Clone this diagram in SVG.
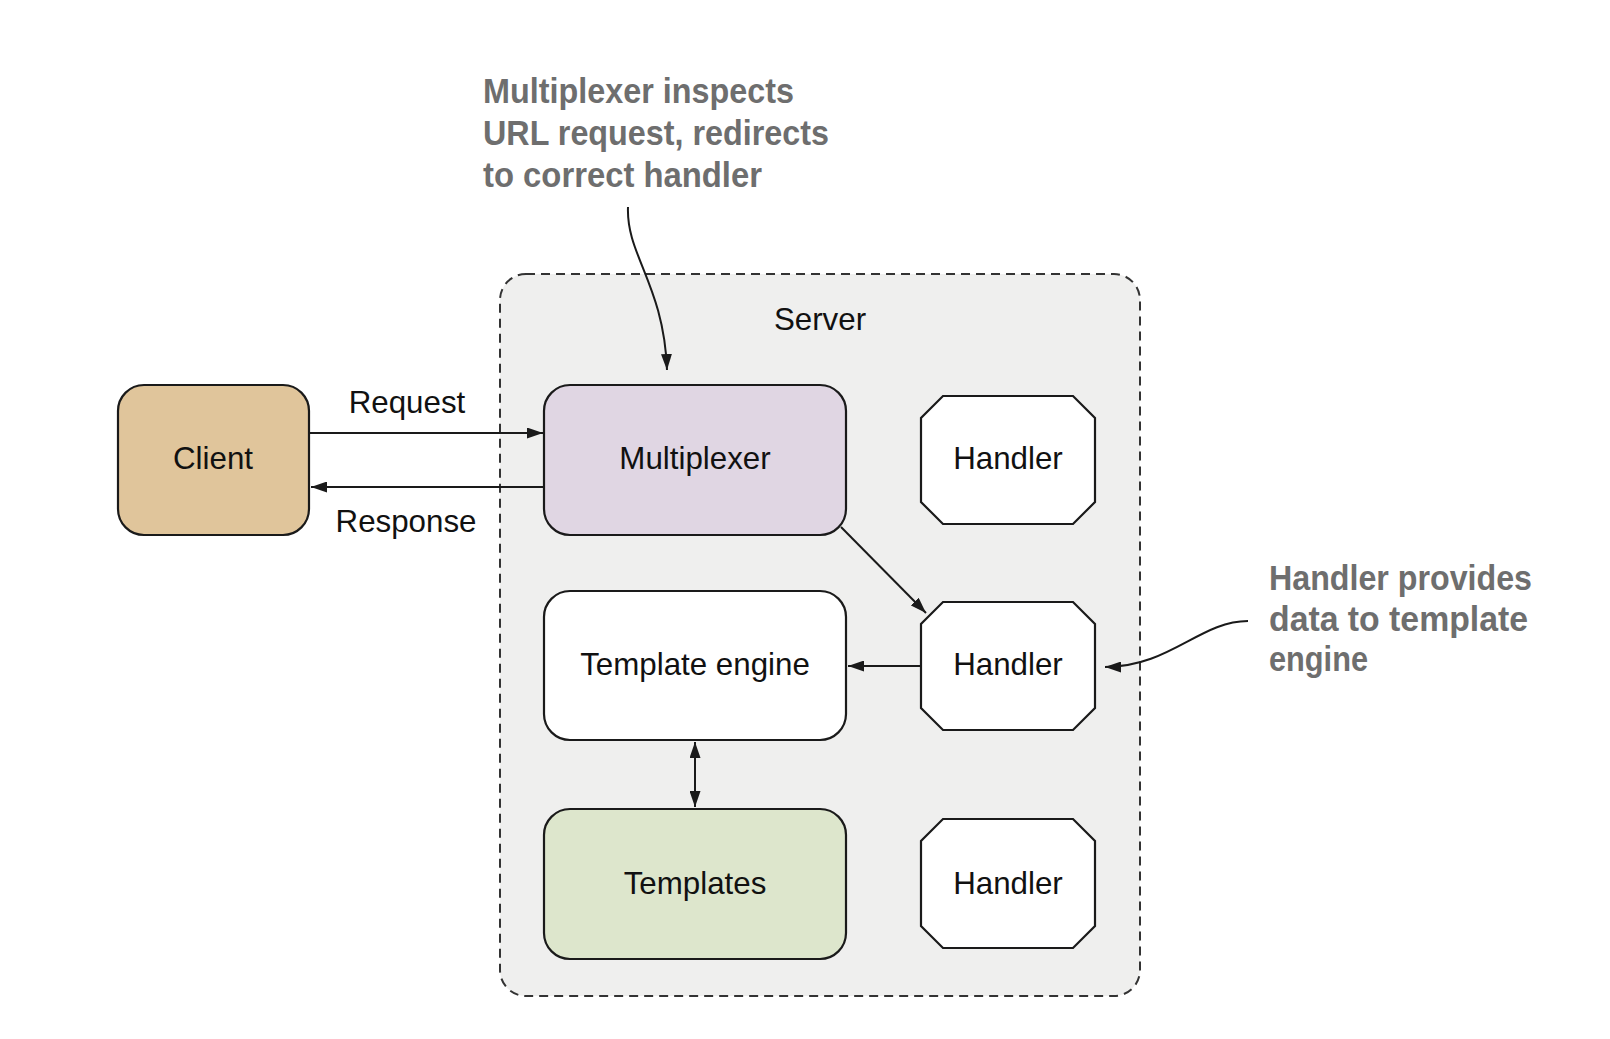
<svg xmlns="http://www.w3.org/2000/svg" width="1610" height="1039" viewBox="0 0 1610 1039">
<style>
.lbl{font-family:"Liberation Sans",Arial,sans-serif;font-size:31.3px;fill:#111;text-anchor:middle}
.box{stroke:#1a1a1a;stroke-width:2.2}
.oct{fill:#fff;stroke:#1a1a1a;stroke-width:2.2}
.con{fill:none;stroke:#1a1a1a;stroke-width:2}
.call{font-family:"Liberation Sans Narrow","Liberation Sans",Arial,sans-serif;font-weight:bold;font-size:35px;fill:#6e6e6e}
</style>
<defs>
<marker id="ah" viewBox="0 0 16 11" refX="16" refY="5.5" markerWidth="16" markerHeight="11" markerUnits="userSpaceOnUse" orient="auto-start-reverse">
<path d="M0,0 L16,5.5 L0,11 z" fill="#1a1a1a"/>
</marker>
</defs>
<rect width="1610" height="1039" fill="#fff"/>
<g id="server">
<rect x="500" y="274" width="640" height="722" rx="26" fill="#efefee" stroke="#333" stroke-width="2" stroke-dasharray="9 6"/>
<text class="lbl" x="820" y="330">Server</text>
</g>
<g id="client">
<rect class="box" x="118" y="385" width="191" height="150" rx="26" fill="#e0c59b"/>
<text class="lbl" x="213" y="469">Client</text>
</g>
<g id="multiplexer">
<rect class="box" x="544" y="385" width="302" height="150" rx="26" fill="#e0d6e3"/>
<text class="lbl" x="695" y="469">Multiplexer</text>
</g>
<g id="handler1">
<polygon class="oct" points="943,396 1073,396 1095,418 1095,502 1073,524 943,524 921,502 921,418"/>
<text class="lbl" x="1008" y="469">Handler</text>
</g>
<g id="template-engine">
<rect class="box" x="544" y="591" width="302" height="149" rx="26" fill="#fff"/>
<text class="lbl" x="695" y="675">Template engine</text>
</g>
<g id="handler2">
<polygon class="oct" points="943,602 1073,602 1095,624 1095,708 1073,730 943,730 921,708 921,624"/>
<text class="lbl" x="1008" y="675">Handler</text>
</g>
<g id="templates">
<rect class="box" x="544" y="809" width="302" height="150" rx="26" fill="#dde6cc"/>
<text class="lbl" x="695" y="894">Templates</text>
</g>
<g id="handler3">
<polygon class="oct" points="943,819 1073,819 1095,841 1095,926 1073,948 943,948 921,926 921,841"/>
<text class="lbl" x="1008" y="894">Handler</text>
</g>
<g id="connectors">
<line class="con" x1="309" y1="433" x2="543" y2="433" marker-end="url(#ah)"/>
<line class="con" x1="544" y1="487" x2="311" y2="487" marker-end="url(#ah)"/>
<text class="lbl" x="407" y="413">Request</text>
<text class="lbl" x="406" y="532">Response</text>
<line class="con" x1="841" y1="527" x2="926" y2="613" marker-end="url(#ah)"/>
<line class="con" x1="921" y1="666" x2="848" y2="666" marker-end="url(#ah)"/>
<line class="con" x1="695" y1="742" x2="695" y2="807" marker-start="url(#ah)" marker-end="url(#ah)"/>
<path class="con" d="M628,207 C626,255 664,285 667,370" stroke-width="1.4" marker-end="url(#ah)"/>
<path class="con" d="M1248,621 C1200,621 1170,667 1105,667" stroke-width="1.4" marker-end="url(#ah)"/>
</g>
<g id="callout-multiplexer">
<text class="call" x="483" y="103" textLength="311" lengthAdjust="spacingAndGlyphs">Multiplexer inspects</text>
<text class="call" x="483" y="145" textLength="346" lengthAdjust="spacingAndGlyphs">URL request, redirects</text>
<text class="call" x="483" y="187" textLength="279" lengthAdjust="spacingAndGlyphs">to correct handler</text>
</g>
<g id="callout-handler">
<text class="call" x="1269" y="590" textLength="263" lengthAdjust="spacingAndGlyphs">Handler provides</text>
<text class="call" x="1269" y="631" textLength="259" lengthAdjust="spacingAndGlyphs">data to template</text>
<text class="call" x="1269" y="671" textLength="99" lengthAdjust="spacingAndGlyphs">engine</text>
</g>
</svg>
